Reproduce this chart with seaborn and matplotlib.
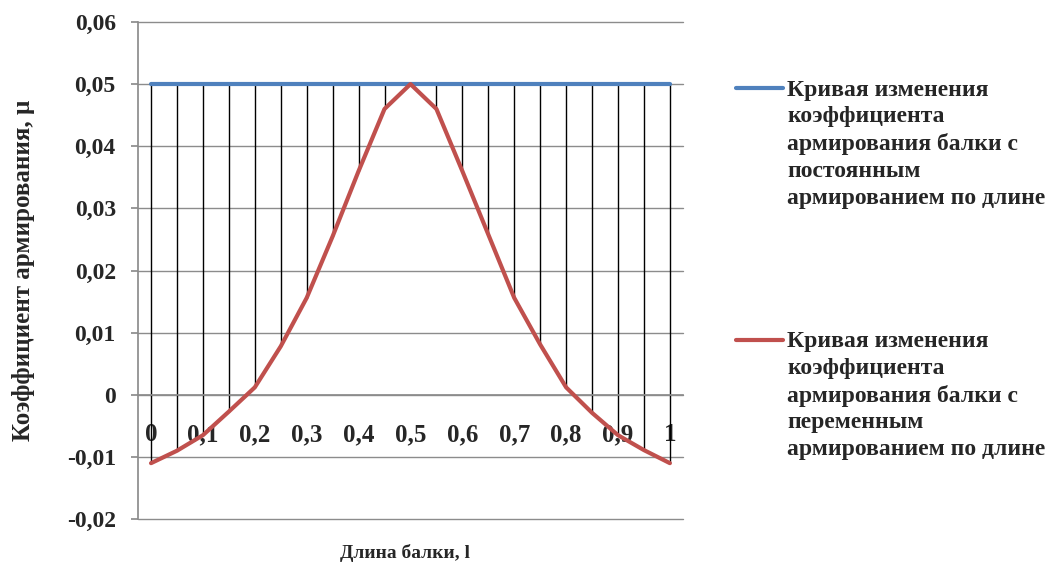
import numpy as np
import pandas as pd
import seaborn as sns
import matplotlib
matplotlib.use("Agg")
import matplotlib.pyplot as plt

# ---- data ----
beam_length = [0, 0.05, 0.1, 0.15, 0.2, 0.25, 0.3, 0.35, 0.4, 0.45, 0.5,
               0.55, 0.6, 0.65, 0.7, 0.75, 0.8, 0.85, 0.9, 0.95, 1.0]
mu_constant = [0.05, 0.05, 0.05, 0.05, 0.05, 0.05, 0.05, 0.05, 0.05, 0.05, 0.05,
               0.05, 0.05, 0.05, 0.05, 0.05, 0.05, 0.05, 0.05, 0.05, 0.05]
mu_variable = [-0.011, -0.009, -0.0065, -0.0027, 0.0012, 0.0078, 0.0156, 0.0255, 0.036, 0.046, 0.05,
               0.046, 0.036, 0.0258, 0.0156, 0.0081, 0.0012, -0.0029, -0.0065, -0.0089, -0.011]
series_names = [
    "Кривая изменения\nкоэффициента\nармирования балки с\nпостоянным\nармированием по длине",
    "Кривая изменения\nкоэффициента\nармирования балки с\nпеременным\nармированием по длине",
]
x_tick_values = [0, 0.1, 0.2, 0.3, 0.4, 0.5, 0.6, 0.7, 0.8, 0.9, 1.0]
x_tick_labels = ["0", "0,1", "0,2", "0,3", "0,4", "0,5", "0,6", "0,7", "0,8", "0,9", "1"]
y_tick_values = [-0.02, -0.01, 0, 0.01, 0.02, 0.03, 0.04, 0.05, 0.06]
y_tick_labels = ["-0,02", "-0,01", "0", "0,01", "0,02", "0,03", "0,04", "0,05", "0,06"]
colors = ["#4F81BD", "#C0504D"]

df = pd.DataFrame({
    "x": beam_length * 2,
    "mu": mu_constant + mu_variable,
    "series": [series_names[0]] * len(beam_length) + [series_names[1]] * len(beam_length),
})

sns.set_theme(style="white")
plt.rcParams["font.family"] = ["Liberation Serif", "DejaVu Serif"]
plt.rcParams["font.weight"] = "bold"

fig = plt.figure(figsize=(10.62, 5.63), dpi=100)
ax = fig.add_axes([0.130, 0.078, 0.513, 0.883])

# high-low drop lines between the two series
ax.vlines(beam_length, mu_variable, mu_constant, colors="black", linewidth=1.0, zorder=2)

sns.lineplot(data=df, x="x", y="mu", hue="series", palette=colors, linewidth=3.0,
             ax=ax, zorder=3, legend=True)

ax.set_xlim(-0.025, 1.025)
ax.set_ylim(-0.02, 0.06)
ax.set_yticks(y_tick_values)
ax.set_yticklabels(y_tick_labels)
ax.set_xticks(x_tick_values)
ax.set_xticklabels(x_tick_labels)

ax.yaxis.grid(True, color="#8c8c8c", linewidth=1.0)
ax.xaxis.grid(False)
for gl in ax.get_ygridlines():
    gl.set_clip_on(False)
for s in ["top", "right"]:
    ax.spines[s].set_visible(False)
ax.spines["left"].set_color("#8c8c8c")
ax.spines["bottom"].set_color("#8c8c8c")
ax.spines["bottom"].set_position(("data", 0))
ax.tick_params(axis="y", left=True, length=5, color="#8c8c8c", pad=11, labelsize=17)
ax.tick_params(axis="x", bottom=False, length=0, pad=20.5, labelsize=18)

ax.set_xlabel("Длина балки, l", fontsize=14, fontweight="bold")
ax.xaxis.set_label_coords(0.49, -0.05)
ax.set_ylabel("Коэффициент армирования, μ", fontsize=18, fontweight="bold")
ax.yaxis.set_label_coords(-0.19, 0.5)

handles, labels = ax.get_legend_handles_labels()
leg = ax.legend(handles, labels, loc="upper left", bbox_to_anchor=(0.673, 0.896),
                bbox_transform=fig.transFigure, frameon=False,
                handlelength=2.0, handletextpad=0.17, labelspacing=5.2,
                prop={"weight": "bold", "size": 17})
for t in leg.get_texts():
    t.set_linespacing(1.35)
for column in leg._legend_handle_box.get_children():
    for item in column.get_children():
        item.align = "top"

fig.savefig("out.png", dpi=100)
